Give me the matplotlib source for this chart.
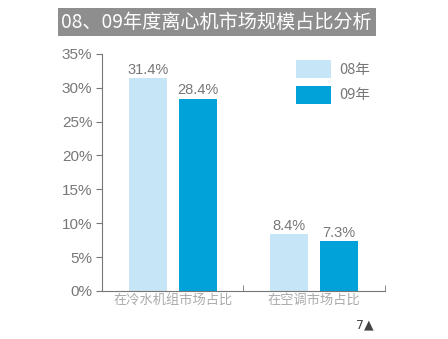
import matplotlib.pyplot as plt
import numpy as np

plt.rcParams['font.family'] = ['Noto Sans CJK SC', 'DejaVu Sans']

categories = ['在冷水机组市场占比', '在空调市场占比']
years = ['08年', '09年']
share_08 = [31.4, 8.4]
share_09 = [28.4, 7.3]
yticks = [0, 5, 10, 15, 20, 25, 30, 35]

light = '#c6e6f7'
dark = '#00a2d9'
grey = '#777777'

fig = plt.figure(figsize=(4.48, 3.39), dpi=100)
ax = fig.add_axes([0.228, 0.142, 0.631, 0.699])

x = np.arange(len(categories))
w = 0.27
b1 = ax.bar(x - 0.177, share_08, w, color=light, label=years[0])
b2 = ax.bar(x + 0.177, share_09, w, color=dark, label=years[1])

for bars, vals in [(b1, share_08), (b2, share_09)]:
    for rect, v in zip(bars, vals):
        ax.text(rect.get_x() + rect.get_width() / 2, v + 0.2, '%.1f%%' % v,
                ha='center', va='bottom', fontsize=10.5, color=grey,
                family=['Liberation Sans'])

ax.set_xlim(-0.5, 1.5)
ax.set_ylim(0, 35)
ax.set_yticks(yticks)
ax.set_yticklabels(['%d%%' % t for t in yticks], fontsize=11, color=grey,
                   family=['Liberation Sans'])
ax.set_xticks([-0.5, 0.5, 1.5], minor=True)
ax.set_xticks(x)
ax.set_xticklabels(categories, fontsize=9.5, color='#aaaaaa')
ax.tick_params(axis='x', which='major', length=0, pad=2)
ax.tick_params(axis='x', which='minor', direction='in', length=4, color=grey)
ax.tick_params(axis='y', length=4, color=grey, pad=3)
for s in ['top', 'right']:
    ax.spines[s].set_visible(False)
for s in ['left', 'bottom']:
    ax.spines[s].set_color(grey)
    ax.spines[s].set_linewidth(0.8)

ax.legend(loc='upper right', bbox_to_anchor=(0.995, 1.03), frameon=False,
          prop={'size': 10.5, 'family': ['Noto Sans CJK SC']}, labelcolor=grey,
          handlelength=2.4, handleheight=1.5, labelspacing=0.55,
          handletextpad=0.6)

fig.text(0.137, 0.935, '08、09年度离心机市场规模占比分析', fontsize=13.8,
         color='white', va='center', ha='left',
         bbox=dict(boxstyle='square,pad=0.2', fc='#8e8e8e', ec='none'))
fig.text(0.795, 0.03, '7▲', fontsize=9, color='#444444', family=['DejaVu Sans'])

fig.savefig('out.png', dpi=100)
